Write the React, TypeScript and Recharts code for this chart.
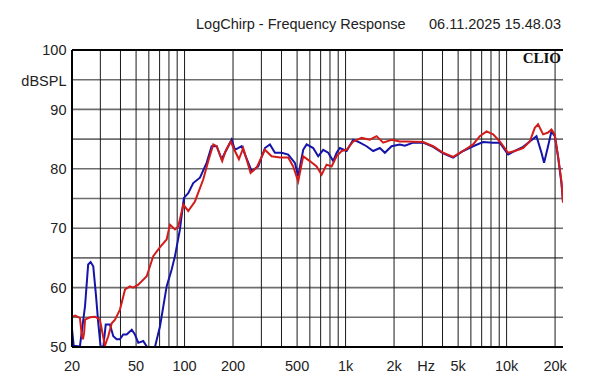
import React from 'react';
import { LineChart, Line, XAxis, YAxis, CartesianGrid, ReferenceLine } from 'recharts';

// ---- data ----
const redFreq = [20, 20.9, 22.4, 23.0, 23.4, 23.8, 24.1, 25.9, 27.8, 29.8, 30.6, 32, 33.6, 35.3, 37, 39.7, 42.7, 45.8, 48, 51.6, 58.2, 63.9, 70.4, 77.4, 81.2, 87.2, 91.4, 98.2, 105.4, 116, 130.6, 140.4, 150.8, 158.3, 171.4, 179.9, 193.3, 205.5, 217.6, 231.4, 257.2, 280.2, 315.6, 347.2, 391, 440.3, 472.8, 507.8, 545.6, 600, 661, 710, 762, 819, 879, 944, 1015, 1115, 1257, 1415, 1557, 1712, 1930, 2172, 2392, 3032, 3498, 4034, 4656, 5370, 6194, 6818, 7504, 8246, 9072, 10218, 11242, 12662, 13932, 14964, 15686, 16848, 18088, 18996, 19912, 20876, 21916, 22400];
const redDb = [55.1, 55.3, 54.9, 52, 51.3, 52.5, 54.6, 55, 55.1, 54.6, 53, 50.2, 51.8, 54, 54.6, 56.3, 59.7, 60.2, 60, 60.5, 61.9, 65.3, 66.8, 68.1, 70.6, 69.8, 70.3, 74, 72.9, 74.5, 78.2, 81.3, 84.1, 83.8, 81.3, 83, 84.6, 83, 81.6, 83.5, 79.3, 80.2, 83.2, 82.1, 81.9, 81.9, 80.4, 77.9, 82.1, 81.3, 80.4, 79, 80.7, 80.4, 82.1, 83, 83.2, 84.6, 85.2, 84.9, 85.5, 84.4, 84.9, 84.6, 84.6, 84.5, 83.8, 82.7, 82, 83, 84.1, 85.5, 86.3, 85.8, 84.6, 82.7, 83, 83.5, 84.6, 86.9, 87.5, 85.8, 86.1, 86.6, 85.8, 82.1, 77.9, 74.3];

const blueFreq = [20, 20.5, 22.4, 24.1, 25.2, 26.1, 27.1, 28.2, 29.1, 30.1, 31.3, 32.4, 34.4, 36.1, 37.9, 39.7, 41.6, 43.7, 47, 49.2, 51.6, 55.4, 58.2, 61, 65.5, 70.4, 77.4, 83.1, 87.2, 93.6, 99.1, 105.4, 113.2, 124.6, 137.1, 147.3, 158.3, 170, 196, 205.5, 226.2, 261, 286.8, 315.6, 339, 364, 400.6, 440.3, 484.6, 507.8, 545.6, 572.8, 629.4, 676, 726, 780, 838, 880, 922, 1015, 1115, 1227, 1350, 1484, 1633, 1754, 1930, 2172, 2334, 2628, 3032, 3498, 4034, 4656, 5370, 6194, 7148, 8246, 9072, 10218, 11242, 12662, 13932, 15328, 16466, 17088, 18088, 18996, 19912, 20876, 21916, 22400];
const blueDb = [53, 50.2, 50.1, 56.9, 63.9, 64.3, 63.6, 58.6, 54.1, 50.1, 50, 53.8, 53.8, 51.8, 51.3, 51.3, 52.1, 52.1, 52.9, 52.1, 50.7, 51, 50.1, 47.5, 50, 53.5, 60.2, 63, 65.3, 69.8, 75.1, 75.9, 77.6, 78.5, 81, 83.8, 83.8, 81.6, 84.9, 83.2, 83.8, 79.6, 80.4, 83.5, 84.1, 82.7, 82.7, 82.4, 81, 78.8, 83.2, 84.1, 83.5, 82.1, 83.2, 82.7, 81.3, 82.7, 83.5, 83, 84.9, 84.4, 83.8, 83, 83.5, 82.7, 83.8, 84.1, 83.9, 84.4, 84.4, 83.7, 82.6, 81.9, 83, 83.8, 84.5, 84.4, 84.4, 82.4, 83, 83.7, 84.6, 85.5, 82.7, 81, 83.8, 86.3, 85.5, 82, 77.5, 74.5];

const gridFreqs = [20, 30, 40, 50, 60, 70, 80, 90, 100, 200, 300, 400, 500, 600, 700, 800, 900, 1000, 2000, 3000, 4000, 5000, 6000, 7000, 8000, 9000, 10000, 20000];
const xTickValues = [20, 50, 100, 200, 500, 1000, 2000, 3162, 5000, 10000, 20000];
const xTickLabels = ['20', '50', '100', '200', '500', '1k', '2k', 'Hz', '5k', '10k', '20k'];
const dbGrid = [55, 60, 65, 70, 75, 80, 85, 90, 95];
const dbTickValues = [50, 60, 70, 80, 90, 95, 100];
const dbTickLabels = ['50', '60', '70', '80', '90', 'dBSPL', '100'];
const dbMinor = [51, 52, 53, 54, 56, 57, 58, 59, 61, 62, 63, 64, 66, 67, 68, 69, 71, 72, 73, 74, 76, 77, 78, 79, 81, 82, 83, 84, 86, 87, 88, 89, 91, 92, 93, 94, 96, 97, 98, 99];

const titleText = 'LogChirp - Frequency Response';
const dateText = '06.11.2025 15.48.03';
const brandText = 'CLIO';

const redData = redFreq.map((f, i) => ({ f, v: redDb[i] }));
const blueData = blueFreq.map((f, i) => ({ f, v: blueDb[i] }));

const FONT = '"Liberation Sans", Arial, sans-serif';

const XTick = (props: any) => {
  const { x, y, payload } = props;
  const idx = xTickValues.indexOf(payload.value);
  return (
    <text x={x} y={y + 24} textAnchor="middle" fontFamily={FONT} fontSize={14.5} fill="#222">
      {idx >= 0 ? xTickLabels[idx] : ''}
    </text>
  );
};

const YTick = (props: any) => {
  const { x, y, payload } = props;
  const idx = dbTickValues.indexOf(payload.value);
  const lbl = idx >= 0 ? dbTickLabels[idx] : '';
  return (
    <text x={x - 5.5} y={y + 5.2 + (lbl === 'dBSPL' ? 1.5 : 0)} textAnchor="end" fontFamily={FONT} fontSize={14.5} fill="#222">
      {lbl}
    </text>
  );
};

export default function App() {
  return (
    <div style={{ position: 'absolute', left: 0, top: 0, width: 600, height: 384, background: '#fff', overflow: 'hidden' }}>
      <LineChart width={600} height={384} margin={{ top: 50, right: 37, left: 0, bottom: 0 }}>
        <CartesianGrid vertical={false} horizontalValues={dbGrid} stroke="#6e6e6e" strokeWidth={1.6} />
        <CartesianGrid horizontal={false} verticalValues={gridFreqs} stroke="#1a1a1a" strokeWidth={1} />
        <XAxis
          dataKey="f"
          type="number"
          scale="log"
          domain={[20, 22400]}
          allowDataOverflow
          ticks={xTickValues}
          interval={0}
          height={37}
          tickLine={false}
          tickSize={0}
          tickMargin={0}
          axisLine={{ stroke: '#000', strokeWidth: 2 }}
          tick={<XTick />}
        />
        <YAxis
          type="number"
          domain={[50, 100]}
          allowDataOverflow
          ticks={dbTickValues}
          interval={0}
          width={72}
          tickLine={false}
          tickSize={0}
          tickMargin={0}
          axisLine={{ stroke: '#000', strokeWidth: 2 }}
          tick={<YTick />}
        />
        <YAxis
          yAxisId="minorL"
          orientation="left"
          mirror
          width={0}
          type="number"
          domain={[50, 100]}
          ticks={dbMinor}
          interval={0}
          tick={false}
          tickSize={3}
          tickLine={{ stroke: '#000', strokeWidth: 1 }}
          axisLine={false}
        />
        <YAxis
          yAxisId="minorR"
          orientation="right"
          mirror
          width={0}
          type="number"
          domain={[50, 100]}
          ticks={dbMinor}
          interval={0}
          tick={false}
          tickSize={3}
          tickLine={{ stroke: '#000', strokeWidth: 1 }}
          axisLine={{ stroke: '#000', strokeWidth: 2 }}
        />
        <ReferenceLine y={100} stroke="#000" strokeWidth={2} />
        <Line data={blueData} dataKey="v" type="linear" stroke="#1414a8" strokeWidth={2} dot={false} isAnimationActive={false} />
        <Line data={redData} dataKey="v" type="linear" stroke="#d21c1c" strokeWidth={2} dot={false} isAnimationActive={false} />
      </LineChart>
      <div style={{ position: 'absolute', left: 196, top: 15, fontFamily: FONT, fontSize: 14.5, color: '#222', whiteSpace: 'nowrap', lineHeight: '18px' }}>
        {titleText}
      </div>
      <div style={{ position: 'absolute', left: 429, top: 15, fontFamily: FONT, fontSize: 14.5, color: '#222', whiteSpace: 'nowrap', lineHeight: '18px' }}>
        {dateText}
      </div>
      <div style={{ position: 'absolute', right: 39, top: 49, fontFamily: '"Liberation Serif", "Times New Roman", serif', fontWeight: 'bold', fontSize: 15, color: '#111', whiteSpace: 'nowrap', lineHeight: '18px' }}>
        {brandText}
      </div>
    </div>
  );
}
